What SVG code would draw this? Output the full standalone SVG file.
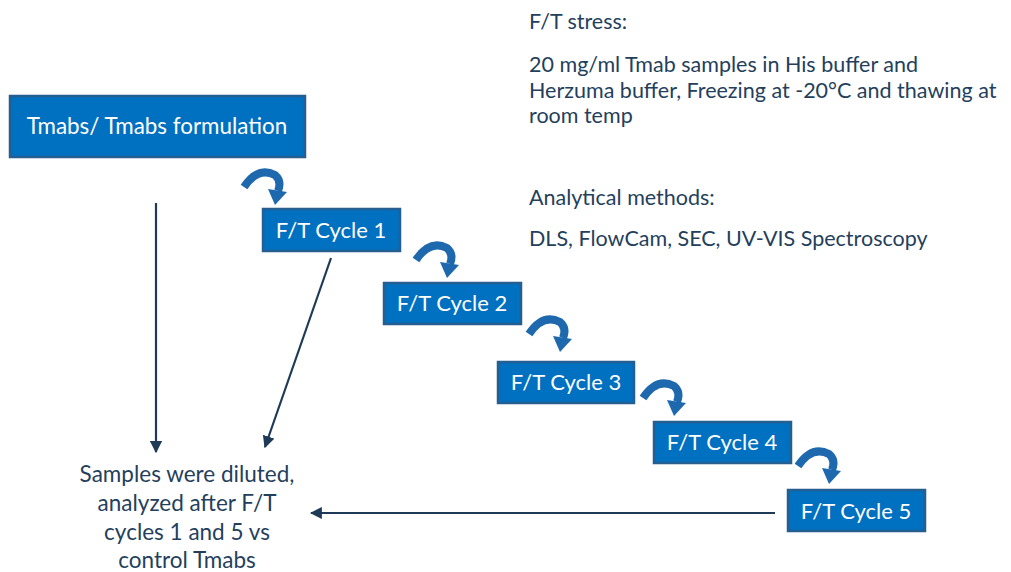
<svg xmlns="http://www.w3.org/2000/svg" width="1011" height="572" viewBox="0 0 1011 572">
<style>
.box{fill:#0070C0;stroke:#255E91;stroke-width:2.5}
.bt{font-family:Lato,"Open Sans",sans-serif;fill:#FFFFFF;text-anchor:middle}
.t{font-family:Lato,"Open Sans",sans-serif;fill:#243F5C;font-size:21.5px}
.b{font-family:Lato,"Open Sans",sans-serif;fill:#243F5C;font-size:22.5px;text-anchor:middle}
.c{fill:none;stroke:#1F3A57;stroke-width:2.2}
.curv{fill:none;stroke:#1E68AE;stroke-width:8}
.curh{fill:#1E68AE}
</style>
<defs>
<marker id="ah2" viewBox="0 0 10 10" refX="9" refY="5" markerWidth="5.5" markerHeight="5.5" orient="auto">
<path d="M0,0 L10,5 L0,10 z" fill="#1F3A57"/>
</marker>
<g id="curl">
<path class="curv" d="M3,21 Q17,0 34,9 Q41,15 37,25"/>
<path class="curh" d="M27,23 L46,26 L34,39 z"/>
</g>
</defs>
<g id="connectors">
<line class="c" x1="156" y1="203" x2="156" y2="452" marker-end="url(#ah2)"/>
<line class="c" x1="331" y1="258" x2="265" y2="447" marker-end="url(#ah2)"/>
<line class="c" x1="775" y1="513" x2="311" y2="513" marker-end="url(#ah2)"/>
<use href="#curl" x="241" y="166"/>
<use href="#curl" x="413" y="239"/>
<use href="#curl" x="526" y="313"/>
<use href="#curl" x="640" y="377"/>
<use href="#curl" x="795" y="445"/>
</g>
<g id="n0">
<rect class="box" x="10" y="96" width="295" height="61"/>
<text class="bt" x="157" y="134" font-size="22.4">Tmabs/ Tmabs formulation</text>
</g>
<g id="n1">
<rect class="box" x="263" y="209" width="137" height="42"/>
<text class="bt" x="331" y="238" font-size="22">F/T Cycle 1</text>
</g>
<g id="n2">
<rect class="box" x="384" y="283" width="137" height="41"/>
<text class="bt" x="452" y="311" font-size="22">F/T Cycle 2</text>
</g>
<g id="n3">
<rect class="box" x="498" y="362" width="136" height="41"/>
<text class="bt" x="566" y="390" font-size="22">F/T Cycle 3</text>
</g>
<g id="n4">
<rect class="box" x="654" y="422" width="137" height="41"/>
<text class="bt" x="722" y="450" font-size="22">F/T Cycle 4</text>
</g>
<g id="n5">
<rect class="box" x="788" y="490" width="137" height="41"/>
<text class="bt" x="856" y="519" font-size="22">F/T Cycle 5</text>
</g>
<g id="notes">
<text class="t" x="529" y="29">F/T stress:</text>
<text class="t" x="529" y="72">20 mg/ml Tmab samples in His buffer and</text>
<text class="t" x="529" y="98">Herzuma buffer, Freezing at -20°C and thawing at</text>
<text class="t" x="529" y="123">room temp</text>
<text class="t" x="529" y="205">Analytical methods:</text>
<text class="t" x="529" y="246">DLS, FlowCam, SEC, UV-VIS Spectroscopy</text>
</g>
<g id="result">
<text class="b" x="187" y="482">Samples were diluted,</text>
<text class="b" x="187" y="511">analyzed after F/T</text>
<text class="b" x="187" y="540">cycles 1 and 5 vs</text>
<text class="b" x="187" y="568">control Tmabs</text>
</g>
</svg>
